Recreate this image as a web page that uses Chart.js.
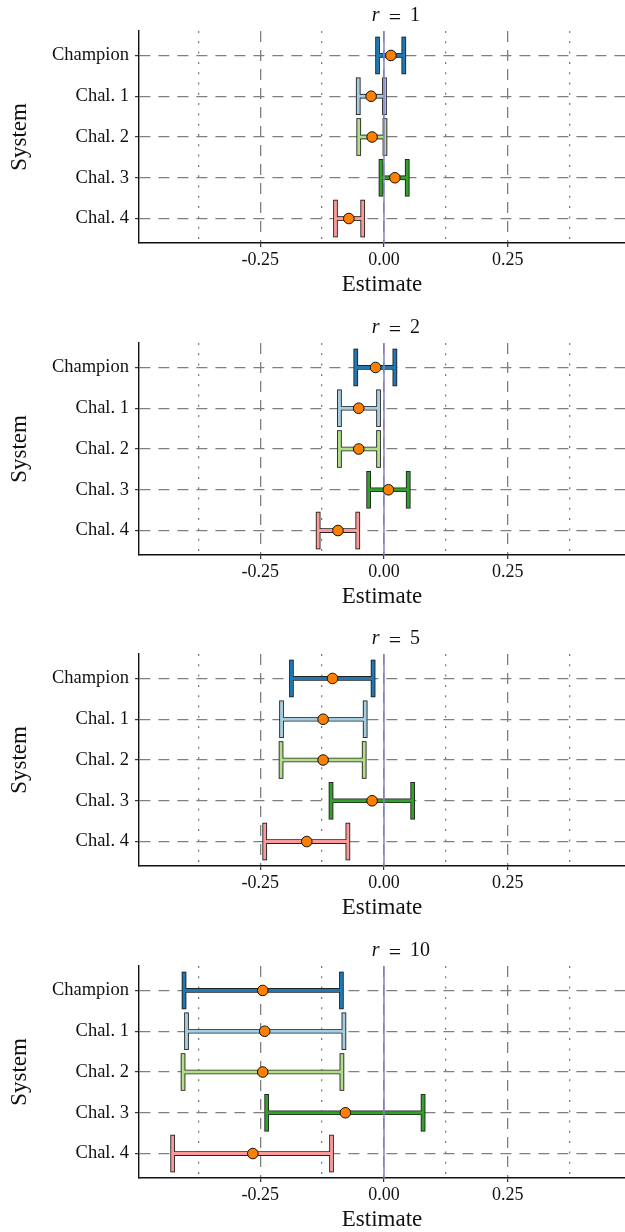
<!DOCTYPE html>
<html><head><meta charset="utf-8">
<script src="https://cdn.jsdelivr.net/npm/chart.js@4.4.0/dist/chart.umd.min.js"></script>
<style>
html,body{margin:0;padding:0;background:#fff;overflow:hidden;width:625px;height:1232px;}
.panel{position:absolute;left:0;width:625px;height:311px;}
</style></head><body>
<div class="panel" style="top:0px"><canvas id="c0"></canvas></div>
<div class="panel" style="top:312px"><canvas id="c1"></canvas></div>
<div class="panel" style="top:623px"><canvas id="c2"></canvas></div>
<div class="panel" style="top:935px"><canvas id="c3"></canvas></div>
<script>
// ---- data ----
const categories = ['Champion', 'Chal. 1', 'Chal. 2', 'Chal. 3', 'Chal. 4'];
const rValues = [1, 2, 5, 10];

const est_r1 = [0.014, -0.026, -0.024, 0.022, -0.071];
const lo_r1  = [-0.013, -0.052, -0.051, -0.006, -0.098];
const hi_r1  = [0.040, 0.001, 0.002, 0.047, -0.043];

const est_r2 = [-0.017, -0.051, -0.051, 0.009, -0.093];
const lo_r2  = [-0.057, -0.090, -0.090, -0.031, -0.133];
const hi_r2  = [0.022, -0.011, -0.011, 0.049, -0.053];

const est_r5 = [-0.104, -0.123, -0.123, -0.024, -0.156];
const lo_r5  = [-0.187, -0.207, -0.208, -0.107, -0.241];
const hi_r5  = [-0.022, -0.038, -0.040, 0.058, -0.073];

const est_r10 = [-0.245, -0.241, -0.245, -0.078, -0.265];
const lo_r10  = [-0.404, -0.399, -0.406, -0.237, -0.427];
const hi_r10  = [-0.086, -0.081, -0.085, 0.079, -0.106];

const xTickValues = [-0.375, -0.25, -0.125, 0, 0.125, 0.25, 0.375];
const xTickLabels = ['', '-0.25', '', '0.00', '', '0.25', ''];
const xMin = -0.495, xMax = 0.487;

const panelsEst = [est_r1, est_r2, est_r5, est_r10];
const panelsLo = [lo_r1, lo_r2, lo_r5, lo_r10];
const panelsHi = [hi_r1, hi_r2, hi_r5, hi_r10];

// ---- styles ----
const seriesColors = ['#1f78b4', '#a6cee3', '#b2df8a', '#33a02c', '#fb9a99'];
const FONT = "'Liberation Serif', 'Times New Roman', serif";

const errorBarPlugin = {
  id: 'errorBars',
  beforeDatasetsDraw(chart, args, opts) {
    const {ctx, chartArea, scales: {x, y}} = chart;
    const lo = opts.lo, hi = opts.hi;
    const seg = (a, b, c, d) => { ctx.beginPath(); ctx.moveTo(a, b); ctx.lineTo(c, d); ctx.stroke(); };
    ctx.save();
    ctx.beginPath();
    ctx.rect(chartArea.left, chartArea.top, chartArea.width, chartArea.height);
    ctx.clip();
    ctx.lineCap = 'butt';
    const h = 18.8;
    lo.forEach((l, i) => {
      const yc = y.getPixelForValue(i + 1);
      const x1 = x.getPixelForValue(l);
      const x2 = x.getPixelForValue(hi[i]);
      ctx.strokeStyle = '#222';
      ctx.lineWidth = 4.7;
      seg(x1, yc, x2, yc);
      seg(x1, yc - h, x1, yc + h);
      seg(x2, yc - h, x2, yc + h);
      ctx.strokeStyle = seriesColors[i];
      ctx.lineWidth = 2.9;
      seg(x1, yc, x2, yc);
      seg(x1, yc - h + 0.9, x1, yc + h - 0.9);
      seg(x2, yc - h + 0.9, x2, yc + h - 0.9);
    });
    const x0 = x.getPixelForValue(0);
    ctx.strokeStyle = '#8583c4';
    ctx.lineWidth = 1.5;
    seg(x0, chartArea.top, x0, chartArea.bottom);
    ctx.restore();
  }
};

const rTitlePlugin = {
  id: 'rTitle',
  afterDraw(chart, args, opts) {
    const {ctx, chartArea} = chart;
    const cx = (chartArea.left + chartArea.right) / 2;
    const base = 21;
    ctx.save();
    ctx.fillStyle = '#111';
    ctx.textBaseline = 'alphabetic';
    ctx.font = 'italic 20px ' + FONT;
    ctx.textAlign = 'left';
    ctx.fillText('r', cx - 10.3, base);
    ctx.font = '22px ' + FONT;
    ctx.textAlign = 'center';
    ctx.fillText('=', cx + 13, base + 3);
    ctx.font = '20px ' + FONT;
    ctx.textAlign = 'left';
    ctx.fillText(String(opts.r), cx + 28, base);
    ctx.restore();
  }
};

function makeChart(idx) {
  const est = panelsEst[idx];
  const points = est.map((v, i) => ({x: v, y: i + 1}));
  return new Chart(document.getElementById('c' + idx), {
    type: 'scatter',
    data: {
      datasets: [{
        data: points,
        backgroundColor: '#ff7f00',
        borderColor: '#111',
        borderWidth: 1,
        pointRadius: 5.3,
        pointHoverRadius: 5.3
      }]
    },
    options: {
      responsive: true,
      maintainAspectRatio: false,
      animation: false,
      events: [],
      layout: {autoPadding: false, padding: {top: 31, right: 0, bottom: 0, left: 0}},
      plugins: {
        legend: {display: false},
        tooltip: {enabled: false},
        title: {display: false},
        errorBars: {lo: panelsLo[idx], hi: panelsHi[idx]},
        rTitle: {r: rValues[idx]}
      },
      scales: {
        x: {
          type: 'linear',
          min: xMin, max: xMax,
          afterBuildTicks: (s) => { s.ticks = xTickValues.map(v => ({value: v})); },
          afterFit: (s) => { s.height = 68; },
          ticks: {
            autoSkip: false,
            maxRotation: 0,
            padding: 2,
            color: '#111',
            font: {family: FONT, size: 18},
            callback: (v, i) => xTickLabels[i]
          },
          grid: {
            color: '#7f7f7f',
            lineWidth: 1.3,
            drawTicks: true,
            tickLength: 4,
            tickColor: (c) => (xTickLabels[c.index] ? '#222' : 'rgba(0,0,0,0)'),
            tickWidth: 1.1
          },
          border: {
            display: true, color: '#111', width: 1.4,
            dash: (c) => (xTickLabels[c.index] ? [11, 8] : [2, 8.3])
          },
          title: {
            display: true, text: 'Estimate', color: '#111',
            font: {family: FONT, size: 23},
            padding: {top: 0, bottom: 12}
          }
        },
        y: {
          type: 'linear',
          reverse: true,
          min: 0.4, max: 5.6,
          afterBuildTicks: (s) => { s.ticks = categories.map((c, i) => ({value: i + 1})); },
          afterFit: (s) => { s.width = 139; },
          ticks: {
            autoSkip: false,
            padding: 6,
            color: '#111',
            font: {family: FONT, size: 18.5},
            callback: (v, i) => categories[i]
          },
          grid: {
            color: '#7f7f7f',
            lineWidth: 1.3,
            drawTicks: true,
            tickLength: 4,
            tickColor: '#222',
            tickWidth: 1.1
          },
          border: {display: true, color: '#111', width: 1.4, dash: [11, 8]},
          title: {
            display: true, text: 'System', color: '#111',
            font: {family: FONT, size: 23},
            padding: {top: 6, bottom: 0}
          }
        }
      }
    },
    plugins: [errorBarPlugin, rTitlePlugin]
  });
}
rValues.forEach((r, i) => makeChart(i));
</script>
</body></html>
